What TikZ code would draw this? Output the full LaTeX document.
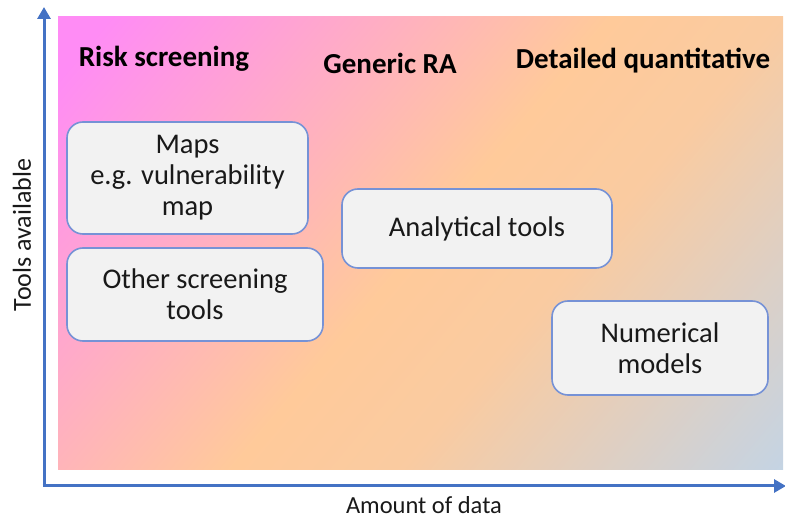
\documentclass[tikz,border=0pt]{standalone}
\usepackage{fontspec}
\setmainfont{Carlito}
\usetikzlibrary{arrows.meta,positioning}
\definecolor{axisblue}{RGB}{68,114,196}
\definecolor{boxedge}{RGB}{118,146,214}
\definecolor{boxfill}{RGB}{242,242,242}
\definecolor{magentapink}{RGB}{255,140,245}
\definecolor{peach}{RGB}{255,202,154}
\definecolor{paleblue}{RGB}{188,213,238}
\pgfdeclarehorizontalshading{riskgrad}{100bp}{color(0bp)=(magentapink); color(18bp)=(magentapink); color(50bp)=(peach); color(61bp)=(peach!92!paleblue); color(89bp)=(paleblue); color(100bp)=(paleblue)}
\tikzset{
  toolbox/.style={draw=boxedge, line width=1.6pt, fill=boxfill, rounded corners=16pt,
    align=center, inner sep=0pt, font=\fontsize{28.5}{31}\selectfont, text=black!90},
  heading/.style={font=\fontsize{29}{31}\selectfont\bfseries},
  axislabel/.style={font=\fontsize{26}{30}\selectfont, text=black!90}
}
\begin{document}
\begin{tikzpicture}[x=1pt, y=-1pt]
  \useasboundingbox (0,0) rectangle (785,518);
  % background
  \shade[shading=riskgrad, shading angle=-40] (58,17) rectangle (783,470);
  % axes
  \coordinate (origin) at (44,486);
  \coordinate (ytop) at (44,7);
  \coordinate (xend) at (786,486);
  \draw[axisblue, line width=3pt, -{Triangle[length=12pt,width=13pt]}] (origin) -- (ytop);
  \draw[axisblue, line width=3pt, -{Triangle[length=12pt,width=13pt]}] ([xshift=-1.5pt]origin) -- (xend);
  \node[axislabel, rotate=90] (ylab) at (22,235) {Tools available};
  \node[axislabel, font=\fontsize{24.5}{28}\selectfont] (xlab) at (424,505) {Amount of data};
  % headings
  \node[heading] (screen) at (164,59) {Risk screening};
  \node[heading] (generic) at (390,63) {Generic RA};
  \node[heading] (detail) at (643,61) {Detailed quantitative};
  % tools
  \node[toolbox, minimum width=241pt, minimum height=112pt] (maps) at (187.5,178) {Maps\\e.g. vulnerability\\map};
  \node[toolbox, minimum width=256pt, minimum height=93pt] (other) at (195,294.5) {Other screening\\tools};
  \node[toolbox, minimum width=270pt, minimum height=79pt] (analytic) at (477,228.5) {Analytical tools};
  \node[toolbox, minimum width=216pt, minimum height=94pt] (numeric) at (660,348) {Numerical\\models};
\end{tikzpicture}
\end{document}
